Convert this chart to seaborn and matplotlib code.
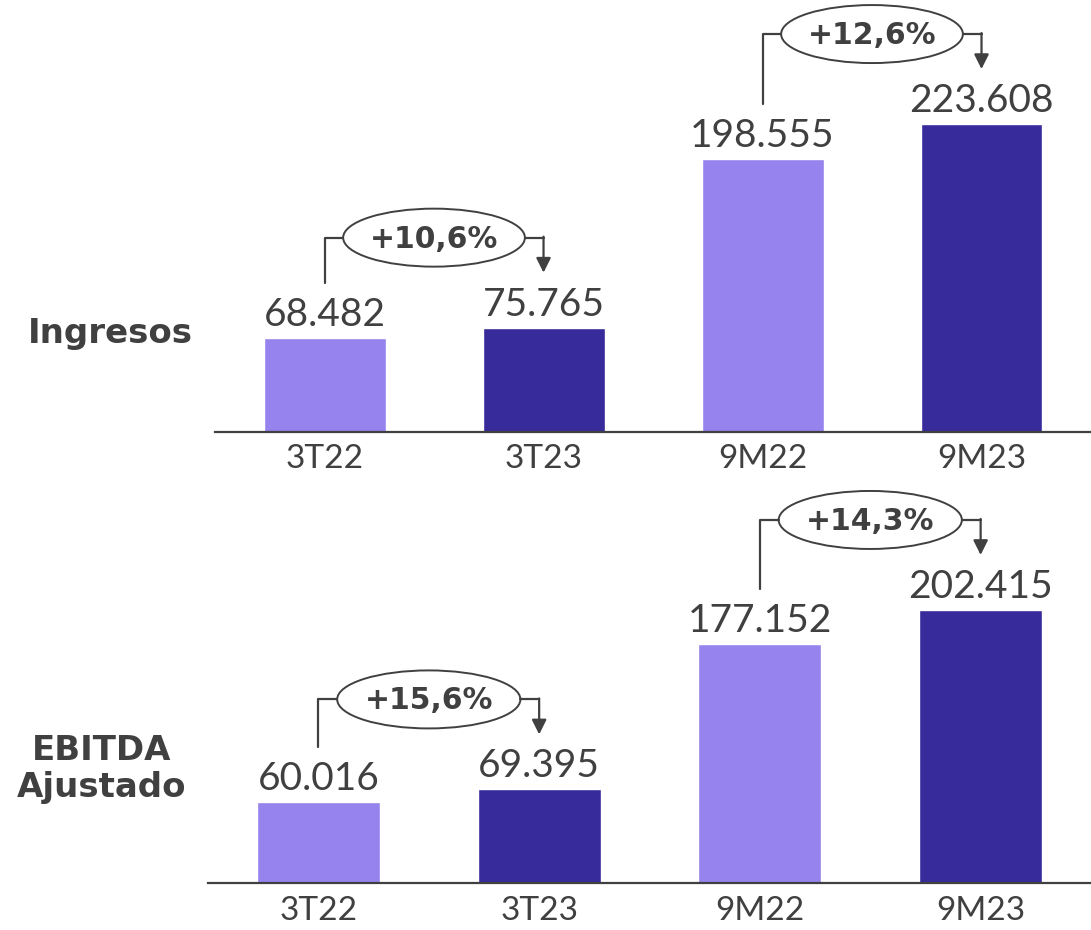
import matplotlib
matplotlib.use("Agg")
import matplotlib.pyplot as plt
from matplotlib.patches import Ellipse
from matplotlib.lines import Line2D
from matplotlib.transforms import ScaledTranslation, IdentityTransform
import seaborn as sns
import pandas as pd

# Periods and figures (thousand euros)
periods = ["3T22", "3T23", "9M22", "9M23"]
years = ["2022", "2023", "2022", "2023"]
ingresos = [68482, 75765, 198555, 223608]
ebitda_ajustado = [60016, 69395, 177152, 202415]
growth_ingresos = ["+10,6%", "+12,6%"]
growth_ebitda = ["+15,6%", "+14,3%"]
row_titles = ["Ingresos", ["EBITDA", "Ajustado"]]

LIGHT = "#9683EE"
DARK = "#372A9A"
INK = "#404040"
FONT = "Lato"
BOLD_FONT = "DejaVu Sans"

sns.set_theme(style="white")
plt.rcParams["font.family"] = [FONT, "DejaVu Sans"]

DPI = 100
fig = plt.figure(figsize=(10.91, 9.30), dpi=DPI)
PIX = IdentityTransform()

ax_top = fig.add_axes([0.1971, 0.5355, 0.8029, 0.4645])
ax_bot = fig.add_axes([0.1907, 0.0505, 0.8093, 0.4333])


def fmt(v):
    return f"{v:,}".replace(",", ".")


def offset(ax, dy_px):
    return ax.transData + ScaledTranslation(0, dy_px / DPI, fig.dpi_scale_trans)


def draw_panel(ax, values, growth, ymax):
    df = pd.DataFrame({"period": periods, "value": values, "year": years})
    sns.barplot(data=df, x="period", y="value", hue="year",
                palette={"2022": LIGHT, "2023": DARK}, dodge=False,
                width=0.557, legend=False, ax=ax, saturation=1)
    ax.set_xlim(-0.5, 3.5)
    ax.set_ylim(0, ymax)
    ax.set_xlabel("")
    ax.set_ylabel("")
    ax.set_yticks([])
    for s in ["top", "right", "left"]:
        ax.spines[s].set_visible(False)
    ax.spines["bottom"].set_color(INK)
    ax.spines["bottom"].set_linewidth(1.6)
    ax.tick_params(axis="x", length=0, pad=9, labelsize=24, labelcolor=INK)

    # value labels above bars
    for i, v in enumerate(values):
        ax.text(i, v, fmt(v), transform=offset(ax, 5), ha="center",
                va="bottom", fontsize=28, color=INK)

    # growth brackets between each pair of bars
    unit_px = ax.transData.transform((1, 0))[0] - ax.transData.transform((0, 0))[0]
    for k, (a, b) in enumerate([(0, 1), (2, 3)]):
        va, vb = values[a], values[b]
        top = max(va, vb)
        xm = (a + b) / 2
        ew_px, eh = 0.83 * unit_px, 58
        ya = ax.transData.transform((a, va))[1] + 55
        yb = ax.transData.transform((b, vb))[1] + 55
        yt = ax.transData.transform((a, top))[1] + 90
        xa = ax.transData.transform((a, 0))[0]
        xb = ax.transData.transform((b, 0))[0]
        xc = ax.transData.transform((xm, 0))[0]
        fig.add_artist(Line2D([xa, xa, xc - ew_px / 2], [ya, yt, yt],
                              transform=PIX, color=INK, lw=1.6))
        fig.add_artist(Line2D([xc + ew_px / 2, xb, xb], [yt, yt, yt],
                              transform=PIX, color=INK, lw=1.6))
        ax.annotate("", xy=(xb, yb), xytext=(xb, yt + 1),
                    xycoords="figure pixels", textcoords="figure pixels",
                    arrowprops=dict(arrowstyle="-|>", color=INK, lw=1.6,
                                    mutation_scale=22, shrinkA=0, shrinkB=0),
                    annotation_clip=False)
        fig.add_artist(Ellipse((xc, yt), ew_px, eh, transform=PIX,
                               facecolor="white", edgecolor=INK, lw=1.4))
        fig.text(xc, yt - 10, growth[k], transform=PIX, ha="center",
                 va="baseline", fontsize=21.5, fontweight="bold", color=INK,
                 family=BOLD_FONT)


draw_panel(ax_top, ingresos, growth_ingresos, 313700)
draw_panel(ax_bot, ebitda_ajustado, growth_ebitda, 298700)

title_kw = dict(ha="center", va="baseline", fontsize=24.5, fontweight="bold",
                color=INK, family=BOLD_FONT)
fig.text(110 / 1091, 1 - 343 / 930, row_titles[0], **title_kw)
fig.text(102 / 1091, 1 - 760 / 930, row_titles[1][0], **title_kw)
fig.text(102 / 1091, 1 - 797 / 930, row_titles[1][1], **title_kw)

fig.savefig("out.png", dpi=DPI)
